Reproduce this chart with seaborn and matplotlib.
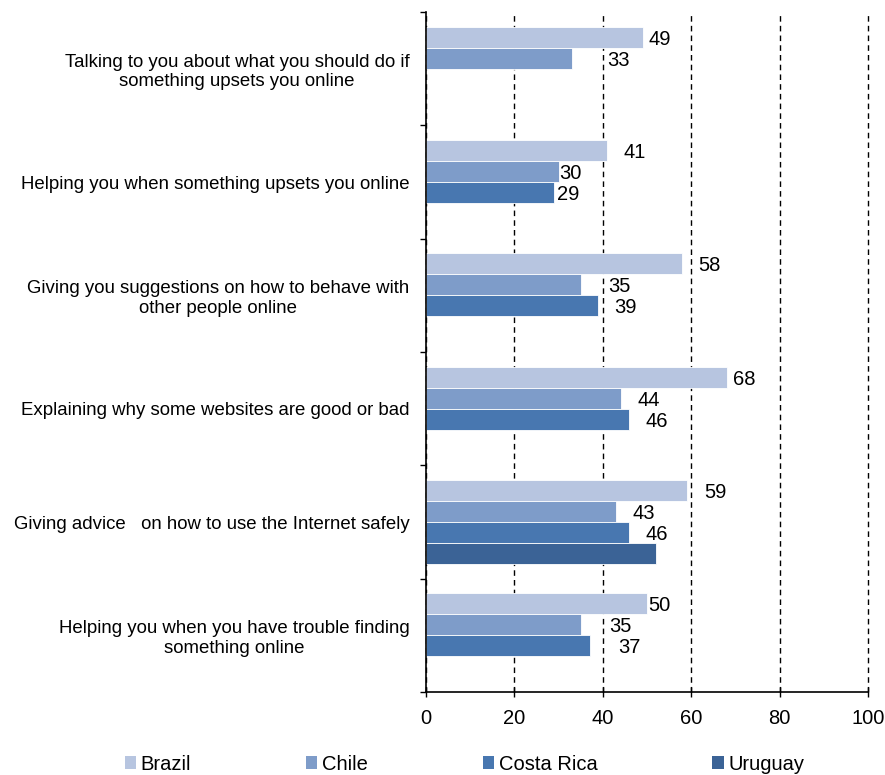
import numpy as np
import pandas as pd
import matplotlib
matplotlib.use("Agg")
import matplotlib.pyplot as plt
from matplotlib.patches import Patch
import seaborn as sns

# Data (percent)
categories = [
    "Talking to you about what you should do if\nsomething upsets you online",
    "Helping you when something upsets you online",
    "Giving you suggestions on how to behave with\nother people online",
    "Explaining why some websites are good or bad",
    "Giving advice   on how to use the Internet safely",
    "Helping you when you have trouble finding\nsomething online",
]
countries = ["Brazil", "Chile", "Costa Rica", "Uruguay"]
brazil = [49, 41, 58, 68, 59, 50]
chile = [33, 30, 35, 44, 43, 35]
costa_rica = [np.nan, 29, 39, 46, 46, 37]
uruguay = [np.nan, np.nan, np.nan, np.nan, 52, np.nan]
labelled = ["Brazil", "Chile", "Costa Rica"]

colors = ["#B7C5E0", "#7E9CC9", "#4877B0", "#3B6396"]
# how far each value label sits from its bar end (pixels), as in the original
label_pad = {
    "Brazil": [6, 16, 16, 6, 17, 1],
    "Chile": [35, 1, 27, 17, 16, 28],
    "Costa Rica": [0, 3, 16, 16, 16, 29],
}

rows = []
for name, vals in zip(countries, [brazil, chile, costa_rica, uruguay]):
    for cat, v in zip(categories, vals):
        if not np.isnan(v):
            rows.append({"category": cat, "country": name, "value": v})
df = pd.DataFrame(rows)

sns.set_style("white")
plt.rcParams["font.family"] = ["Liberation Sans", "DejaVu Sans"]
plt.rcParams["text.color"] = "black"
plt.rcParams["xtick.labelcolor"] = "black"
plt.rcParams["ytick.labelcolor"] = "black"

fig = plt.figure(figsize=(8.85, 7.75), dpi=100)
ax = fig.add_axes([0.4814, 0.1071, 0.4994, 0.8774])

sns.barplot(data=df, y="category", x="value", hue="country", order=categories,
            hue_order=countries, palette=colors, orient="h", width=0.74,
            saturation=1, edgecolor="white", linewidth=0.6, legend=False, ax=ax)

# value labels
for name, cont in zip(countries, ax.containers):
    if name not in labelled:
        continue
    for bar in cont:
        yc = bar.get_y() + bar.get_height() / 2
        idx = int(round(yc))
        ax.annotate(f"{bar.get_width():.0f}", xy=(bar.get_width(), yc),
                    xytext=(label_pad[name][idx], -2), textcoords="offset pixels",
                    ha="left", va="center", fontsize=14.5, color="black")

ax.set_xlim(0, 100)
ax.set_ylim(len(categories) - 0.5, -0.5)
ax.set_xticks(range(0, 101, 20))
ax.xaxis.grid(True, linestyle=(0, (4, 3)), color="black", linewidth=1)
for gl in ax.get_xgridlines():
    gl.set_clip_on(False)
ax.set_axisbelow(True)
ax.set_xlabel("")
ax.set_ylabel("")

for s in ["top", "right"]:
    ax.spines[s].set_visible(False)
for s in ["left", "bottom"]:
    ax.spines[s].set_color("black")
    ax.spines[s].set_linewidth(1.2)

ax.tick_params(axis="x", direction="inout", length=7, width=1, color="black",
               labelsize=14.5, pad=9, bottom=True)
ax.tick_params(axis="y", which="major", length=0, pad=12, labelsize=13.4)
ax.set_yticks(np.arange(-0.5, len(categories), 1), minor=True)
ax.tick_params(axis="y", which="minor", direction="out", length=4, width=1,
               color="black", left=True)
for t in ax.get_yticklabels():
    t.set_multialignment("center")

handles = [Patch(facecolor=c, edgecolor="none") for c in colors]
fig.legend(handles, countries, loc="center", bbox_to_anchor=(0.525, 0.014),
           ncol=4, frameon=False, handlelength=0.55, handleheight=0.55,
           handletextpad=0.25, columnspacing=5.7,
           prop={"family": ["Liberation Sans Narrow", "Liberation Sans"], "size": 14.5})

fig.savefig("out.png", dpi=100)
